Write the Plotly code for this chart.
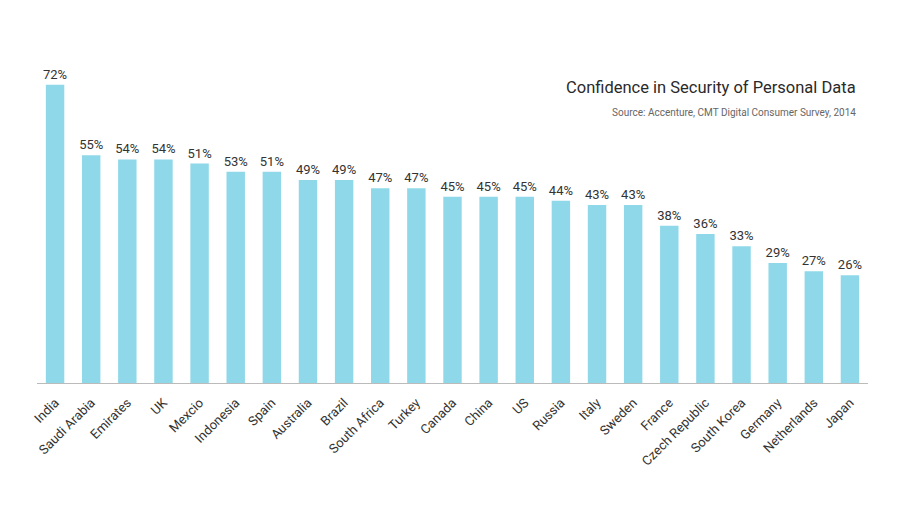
import plotly.graph_objects as go

countries = ["India", "Saudi Arabia", "Emirates", "UK", "Mexcio", "Indonesia", "Spain",
             "Australia", "Brazil", "South Africa", "Turkey", "Canada", "China", "US",
             "Russia", "Italy", "Sweden", "France", "Czech Republic", "South Korea",
             "Germany", "Netherlands", "Japan"]
bar_values = [72, 55, 54, 54, 53, 51, 51, 49, 49, 47, 47, 45, 45, 45, 44, 43, 43, 38, 36, 33, 29, 27, 26]
label_texts = ["72%", "55%", "54%", "54%", "51%", "53%", "51%", "49%", "49%", "47%", "47%",
               "45%", "45%", "45%", "44%", "43%", "43%", "38%", "36%", "33%", "29%", "27%", "26%"]

title_text = "Confidence in Security of Personal Data"
source_text = "Source: Accenture, CMT Digital Consumer Survey, 2014"

font_family = "Roboto, Noto Sans, sans-serif"

fig = go.Figure()
fig.add_trace(go.Bar(
    x=countries,
    y=bar_values,
    text=label_texts,
    textposition="outside",
    constraintext="none",
    cliponaxis=False,
    textfont=dict(family=font_family, size=13, color="#333333"),
    outsidetextfont=dict(family=font_family, size=13, color="#333333"),
    marker=dict(color="#8ED8E9", line=dict(width=0)),
    hoverinfo="x+y",
))

fig.update_layout(
    width=900, height=510,
    margin=dict(l=37, r=32, t=60, b=127),
    paper_bgcolor="white",
    plot_bgcolor="white",
    bargap=0.49,
    showlegend=False,
    font=dict(family=font_family, color="#333333"),
    xaxis=dict(
        range=[-0.5, len(countries) - 0.5],
        tickangle=-45,
        tickfont=dict(family=font_family, size=13, color="#333333"),
        showgrid=False,
        showline=True,
        linecolor="#BBBBBB",
        linewidth=1,
        ticks="",
        ticklabelstandoff=6,
        zeroline=False,
    ),
    yaxis=dict(
        range=[0, 78],
        visible=False,
        showgrid=False,
        zeroline=False,
    ),
    annotations=[
        dict(text=title_text, xref="paper", yref="paper", x=1, y=1, xanchor="right",
             yanchor="middle", xshift=-10, yshift=-27, showarrow=False,
             font=dict(family=font_family, size=16.5, color="#2a2a2a")),
        dict(text=source_text, xref="paper", yref="paper", x=1, y=1, xanchor="right",
             yanchor="middle", xshift=-10, yshift=-52, showarrow=False,
             font=dict(family=font_family, size=10, color="#666666")),
    ],
)

fig.write_html("out.html")
